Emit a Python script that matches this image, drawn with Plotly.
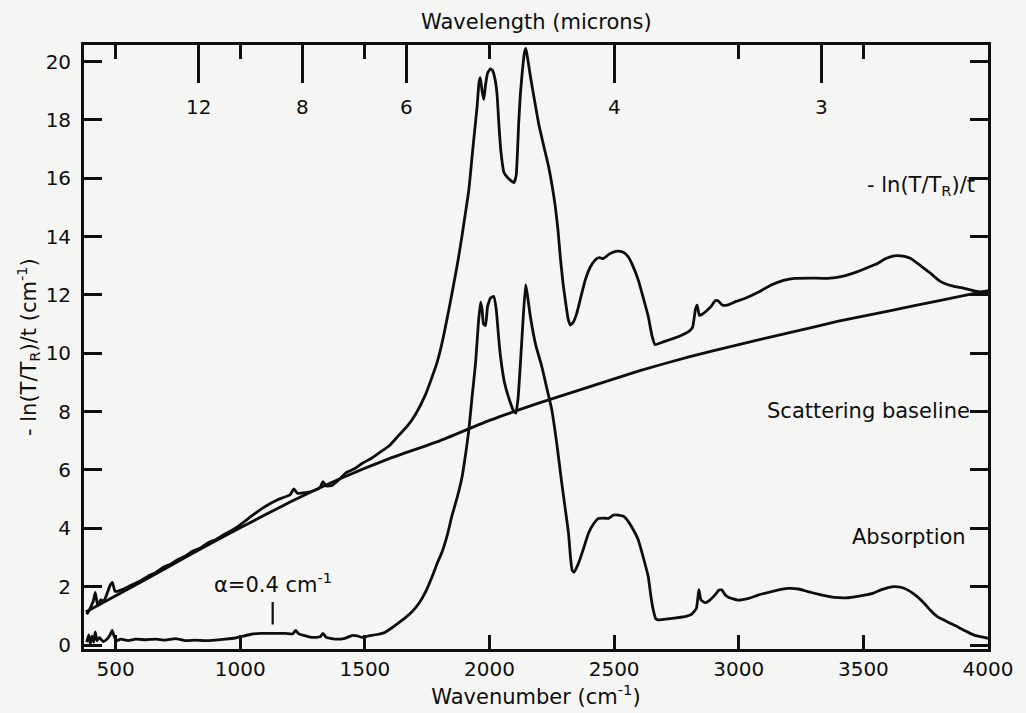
import plotly.graph_objects as go

# Measured extinction  -ln(T/T_R)/t  (cm^-1) vs wavenumber (cm^-1)
nu_total = [384, 397, 410, 418, 428, 440, 452, 465, 478, 487, 497, 510, 540, 570, 600,
            630, 660, 690, 720, 750, 780, 810, 840, 870, 900, 930, 960, 1000, 1050,
            1100, 1150, 1200, 1215, 1230, 1260, 1290, 1320, 1332, 1345, 1370, 1400,
            1424, 1460, 1490, 1530, 1570, 1600, 1637, 1670, 1704, 1744, 1770, 1790,
            1804, 1817, 1837, 1857, 1875, 1890, 1905, 1917, 1930, 1940, 1950, 1958,
            1963, 1970, 1977, 1984, 1992, 2003, 2012, 2022, 2030, 2038, 2046, 2058,
            2075, 2098, 2107, 2117, 2124, 2132, 2140, 2146, 2155, 2164, 2180, 2197,
            2215, 2237, 2252, 2264, 2275, 2284, 2295, 2304, 2315, 2324, 2335, 2350,
            2367, 2384, 2404, 2424, 2440, 2457, 2480, 2500, 2517, 2540, 2557, 2575,
            2597, 2617, 2637, 2652, 2664, 2700, 2757, 2800, 2815, 2826, 2833, 2842,
            2855, 2870, 2890, 2905, 2917, 2935, 2957, 2990, 3024, 3080, 3130, 3180,
            3224, 3290, 3357, 3420, 3477, 3520, 3557, 3590, 3624, 3660, 3690, 3730,
            3770, 3800, 3824, 3860, 3904, 3940, 3970, 4000]
ext_total = [1.05, 1.25, 1.5, 1.8, 1.35, 1.55, 1.5, 1.75, 2.05, 2.15, 1.85, 1.85, 1.95,
             2.08, 2.2, 2.36, 2.48, 2.66, 2.77, 2.93, 3.05, 3.22, 3.33, 3.5, 3.61, 3.76,
             3.9, 4.12, 4.45, 4.75, 4.98, 5.15, 5.35, 5.2, 5.22, 5.28, 5.4, 5.6, 5.45,
             5.48, 5.7, 5.9, 6.05, 6.23, 6.42, 6.66, 6.85, 7.2, 7.5, 7.92, 8.6, 9.2,
             9.7, 10.15, 10.65, 11.5, 12.4, 13.25, 14.05, 14.9, 15.6, 16.74, 17.6,
             18.44, 19.3, 19.45, 19.0, 18.7, 19.2, 19.6, 19.75, 19.7, 19.4, 18.9, 17.8,
             16.9, 16.2, 16.0, 15.85, 16.1, 17.88, 18.9, 19.7, 20.3, 20.45, 20.0, 19.5,
             18.7, 17.88, 17.2, 16.4, 15.7, 15.03, 14.2, 13.3, 12.4, 11.83, 11.2, 10.97,
             11.05, 11.37, 11.95, 12.51, 12.95, 13.2, 13.28, 13.25, 13.4, 13.48, 13.5,
             13.45, 13.3, 13.0, 12.51, 11.9, 11.26, 10.6, 10.3, 10.4, 10.57, 10.75,
             10.9, 11.5, 11.65, 11.3, 11.35, 11.45, 11.62, 11.8, 11.8, 11.65, 11.66,
             11.78, 11.88, 12.1, 12.34, 12.5, 12.57, 12.58, 12.57, 12.65, 12.8, 12.95,
             13.08, 13.25, 13.34, 13.33, 13.25, 13.0, 12.74, 12.52, 12.4, 12.3, 12.23,
             12.15, 12.11, 12.1]

# Scattering baseline (cm^-1)
nu_base = [380, 600, 800, 1000, 1200, 1400, 1600, 1800, 2000, 2200, 2400, 2600, 2800,
           3000, 3200, 3400, 3600, 3800, 4000]
scatter_base = [1.13, 2.15, 3.1, 4.02, 4.9, 5.7, 6.4, 7.0, 7.7, 8.3, 8.85, 9.4, 9.88,
                10.3, 10.7, 11.1, 11.45, 11.8, 12.15]

# Absorption coefficient (cm^-1)
nu_abs = [384, 392, 398, 405, 412, 418, 425, 435, 450, 465, 478, 486, 494, 503, 520,
          550, 580, 620, 660, 700, 740, 780, 820, 860, 900, 940, 980, 1000, 1040, 1080,
          1130, 1180, 1210, 1222, 1235, 1260, 1290, 1320, 1332, 1345, 1380, 1420, 1450,
          1470, 1490, 1510, 1550, 1580, 1610, 1650, 1690, 1717, 1745, 1770, 1790, 1810,
          1830, 1850, 1870, 1890, 1905, 1917, 1930, 1944, 1955, 1964, 1970, 1976, 1984,
          1992, 2004, 2017, 2027, 2036, 2044, 2060, 2080, 2098, 2106, 2115, 2125, 2135,
          2145, 2152, 2165, 2185, 2210, 2230, 2250, 2270, 2290, 2305, 2317, 2325, 2332,
          2340, 2357, 2377, 2397, 2417, 2437, 2457, 2477, 2497, 2517, 2540, 2557, 2577,
          2597, 2617, 2637, 2647, 2657, 2667, 2677, 2720, 2784, 2810, 2830, 2840, 2848,
          2864, 2885, 2904, 2920, 2932, 2945, 2960, 2997, 3040, 3077, 3140, 3197, 3240,
          3277, 3330, 3384, 3440, 3504, 3540, 3570, 3600, 3624, 3650, 3677, 3710, 3744,
          3770, 3797, 3840, 3877, 3910, 3944, 3975, 4000]
absorb = [0.1, 0.35, 0.05, 0.3, 0.1, 0.45, 0.15, 0.25, 0.12, 0.2, 0.35, 0.5, 0.3, 0.15,
          0.2, 0.15, 0.2, 0.18, 0.2, 0.17, 0.22, 0.15, 0.17, 0.15, 0.17, 0.2, 0.24, 0.28,
          0.36, 0.4, 0.4, 0.4, 0.38, 0.5, 0.38, 0.32, 0.26, 0.28, 0.4, 0.26, 0.2, 0.23,
          0.33, 0.31, 0.26, 0.3, 0.36, 0.43, 0.6, 0.85, 1.15, 1.43, 1.85, 2.35, 2.8, 3.2,
          3.75, 4.45, 5.05, 5.77, 6.6, 7.37, 8.5, 9.66, 11.0, 11.75, 11.5, 11.0, 10.95,
          11.6, 11.9, 11.95, 11.5, 10.6, 9.9, 9.0, 8.4, 8.0, 7.95, 8.5, 9.8, 11.2, 12.35,
          12.0, 11.2, 10.3, 9.54, 8.8, 8.06, 6.9, 5.54, 4.6, 3.83, 3.0, 2.55, 2.5, 2.8,
          3.3, 3.83, 4.15, 4.34, 4.35, 4.34, 4.45, 4.45, 4.4, 4.23, 3.95, 3.6, 3.0, 2.34,
          1.7, 1.2, 0.9, 0.86, 0.9, 0.97, 1.05, 1.25, 1.9, 1.55, 1.45, 1.55, 1.71, 1.88,
          1.89, 1.72, 1.63, 1.54, 1.6, 1.71, 1.85, 1.94, 1.92, 1.83, 1.72, 1.63, 1.62,
          1.71, 1.78, 1.89, 1.97, 2.0, 1.98, 1.89, 1.7, 1.43, 1.18, 0.97, 0.78, 0.63,
          0.48, 0.34, 0.28, 0.23]

# Marked absorption level
alpha_nu = 1130
alpha_value = 0.4

# Axis ticks
x_ticks = [500, 1000, 1500, 2000, 2500, 3000, 3500, 4000]
y_ticks = [0, 2, 4, 6, 8, 10, 12, 14, 16, 18, 20]
wavelength_um = [12, 8, 6, 4, 3]

X_RANGE = [373, 4000]
Y_RANGE = [-0.137, 20.57]
INK = "#0e0e0e"
BG = "#f5f5f3"
FONT = "DejaVu Sans"
LW = 2.8

# plot-area geometry (px) used to place the top labels and titles
M_L, M_R, M_T, M_B = 84, 38, 45, 64
PLOT_H = 713 - M_T - M_B

fig = go.Figure()
line = dict(color=INK, width=LW, shape="spline", smoothing=0.4)
fig.add_trace(go.Scatter(x=nu_base, y=scatter_base, mode="lines", line=line,
                         hoverinfo="skip"))
fig.add_trace(go.Scatter(x=nu_total, y=ext_total, mode="lines", line=line,
                         hoverinfo="skip"))
fig.add_trace(go.Scatter(x=nu_abs, y=absorb, mode="lines", line=line,
                         hoverinfo="skip"))
# empty trace so the top wavelength axis is drawn
fig.add_trace(go.Scatter(x=[], y=[], xaxis="x2", yaxis="y", hoverinfo="skip"))

axis_common = dict(showgrid=False, zeroline=False, tickcolor=INK, tickwidth=LW,
                   ticks="inside", tickfont=dict(family=FONT, size=20, color=INK))

wavelength_pos = [10000 / w for w in wavelength_um]

fig.update_layout(
    width=1026, height=713,
    margin=dict(l=M_L, r=M_R, t=M_T, b=M_B),
    paper_bgcolor=BG, plot_bgcolor=BG,
    showlegend=False,
    font=dict(family=FONT, size=21, color=INK),
    xaxis=dict(axis_common, range=X_RANGE, tickvals=x_ticks, ticklen=14,
               showline=True, linewidth=LW, linecolor=INK, mirror="ticks",
               title=dict(text="Wavenumber (cm<sup>-1</sup>)", standoff=0,
                          font=dict(family=FONT, size=21, color=INK))),
    xaxis2=dict(axis_common, overlaying="x", side="top", range=X_RANGE,
                tickvals=wavelength_pos, ticklen=38, showticklabels=False,
                showline=False),
    yaxis=dict(axis_common, range=Y_RANGE, tickvals=y_ticks, ticklen=18,
               showline=True, linewidth=LW, linecolor=INK, mirror="ticks",
               ticklabelstandoff=6),
)

ann_font = dict(family=FONT, size=21, color=INK)

# wavelength labels under the long top ticks
for w, pos in zip(wavelength_um, wavelength_pos):
    fig.add_annotation(text=str(w), xref="x", yref="paper", x=pos,
                       y=(713 - M_B - 107) / PLOT_H, xanchor="center",
                       yanchor="middle", showarrow=False,
                       font=dict(family=FONT, size=20, color=INK))
fig.add_annotation(text="Wavelength (microns)", xref="paper", yref="paper",
                   x=0.5, y=(713 - M_B - 22) / PLOT_H, xanchor="center",
                   yanchor="middle", showarrow=False, font=ann_font)

fig.add_annotation(text="- ln(T/T<sub>R</sub>)/t", xref="paper", yref="y",
                   x=0.988, y=15.74, xanchor="right", yanchor="middle",
                   showarrow=False, font=ann_font)
fig.add_annotation(text="Scattering baseline", xref="paper", yref="y",
                   x=0.982, y=8.02, xanchor="right", yanchor="middle",
                   showarrow=False, font=ann_font)
fig.add_annotation(text="Absorption", xref="paper", yref="y",
                   x=0.978, y=3.70, xanchor="right", yanchor="middle",
                   showarrow=False, font=ann_font)
fig.add_annotation(text=f"α={alpha_value} cm<sup>-1</sup>", xref="x", yref="y",
                   x=alpha_nu, y=alpha_value + 0.3, ax=0, ay=-42,
                   showarrow=True, arrowhead=0, arrowwidth=2.2, arrowcolor=INK,
                   startstandoff=4, font=ann_font)
fig.add_annotation(text="- ln(T/T<sub>R</sub>)/t (cm<sup>-1</sup>)", xref="paper",
                   yref="paper", x=(28 - M_L) / (1026 - M_L - M_R), y=0.5,
                   xanchor="center", yanchor="middle", textangle=-90,
                   showarrow=False, font=ann_font)

fig.write_html("out.html")
